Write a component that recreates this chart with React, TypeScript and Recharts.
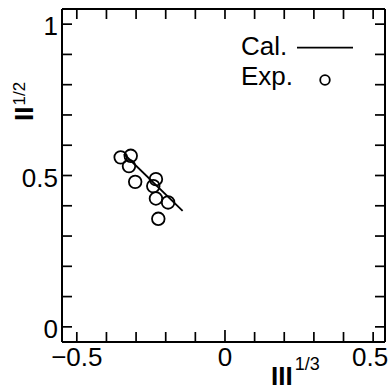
import React from 'react';
import { ScatterChart, Scatter, XAxis, YAxis } from 'recharts';

// Experimental points
const EXP_X = [-0.352, -0.318, -0.324, -0.303, -0.233, -0.242, -0.233, -0.192, -0.225];
const EXP_Y = [0.56, 0.565, 0.531, 0.479, 0.488, 0.465, 0.424, 0.411, 0.357];
// Calculated line
const CAL_X = [-0.341, -0.143];
const CAL_Y = [0.571, 0.383];

const X_DOMAIN = [-0.55, 0.54];
const Y_DOMAIN = [-0.05, 1.05];
const X_TICKS = [-0.5, -0.4, -0.3, -0.2, -0.1, 0, 0.1, 0.2, 0.3, 0.4, 0.5];
const Y_TICKS = [0, 0.1, 0.2, 0.3, 0.4, 0.5, 0.6, 0.7, 0.8, 0.9, 1];
const X_LABELS: Record<string, string> = { '-0.5': '−0.5', '0': '0', '0.5': '0.5' };
const Y_LABELS: Record<string, string> = { '0': '0', '0.5': '0.5', '1': '1' };
const SERIES_NAMES = ['Cal.', 'Exp.'];
const X_TITLE = ['III', '1/3'];
const Y_TITLE = ['II', '1/2'];

const expData = EXP_X.map((x, i) => ({ x, y: EXP_Y[i] }));
const calData = CAL_X.map((x, i) => ({ x, y: CAL_Y[i] }));

// tick-mark anchor points on the four frame sides (positions come from the scales)
const bottomTickPts = X_TICKS.map((v) => ({ x: v, y: Y_DOMAIN[0], v }));
const topTickPts = X_TICKS.map((v) => ({ x: v, y: Y_DOMAIN[1], v }));
const leftTickPts = Y_TICKS.map((v) => ({ x: X_DOMAIN[0], y: v, v }));
const rightTickPts = Y_TICKS.map((v) => ({ x: X_DOMAIN[1], y: v, v }));

const FONT = '"Liberation Sans", Arial, Helvetica, sans-serif';
const axisLine = { stroke: '#000', strokeWidth: 2 };
const TICK_W = 1.7;
const TICK_LEN = 10;

const BottomMark = (props: any) => {
  const { cx, cy, payload } = props;
  const len = payload && payload.v === 0 ? 12 : TICK_LEN;
  return <line x1={cx} x2={cx} y1={cy} y2={cy - len} stroke="#000" strokeWidth={TICK_W} />;
};
const TopMark = (props: any) => {
  const { cx, cy } = props;
  return <line x1={cx} x2={cx} y1={cy} y2={cy + TICK_LEN} stroke="#000" strokeWidth={TICK_W} />;
};
const LeftMark = (props: any) => {
  const { cx, cy } = props;
  return <line x1={cx} x2={cx + TICK_LEN} y1={cy} y2={cy} stroke="#000" strokeWidth={TICK_W} />;
};
const RightMark = (props: any) => {
  const { cx, cy } = props;
  return <line x1={cx} x2={cx - TICK_LEN} y1={cy} y2={cy} stroke="#000" strokeWidth={TICK_W} />;
};

const BottomTick = (props: any) => {
  const { x, y, payload, index } = props;
  const label = X_LABELS[String(payload.value)];
  if (!label) return <g />;
  const shift = index === X_TICKS.length - 1 ? -3 : 0;
  return (
    <text x={x + shift} y={y + 6} dy="0.71em" textAnchor="middle" fontSize={26} fontFamily={FONT} fill="#000">
      {label}
    </text>
  );
};

const LeftTick = (props: any) => {
  const { x, y, payload } = props;
  const label = Y_LABELS[String(payload.value)];
  if (!label) return <g />;
  return (
    <text x={x - 4} y={y + 2} dy="0.355em" textAnchor="end" fontSize={26} fontFamily={FONT} fill="#000">
      {label}
    </text>
  );
};

const OpenCircle = (props: any) => (
  <circle cx={props.cx} cy={props.cy} r={6.3} fill="none" stroke="#000" strokeWidth={1.8} />
);
const NoShape = () => <g />;

// Axis titles and key, drawn as a transparent overlay above the chart
const Overlay = () => (
  <svg width={389} height={390} style={{ position: 'absolute', left: 0, top: 0, pointerEvents: 'none' }}>
    <text x={271} y={385} fontFamily={FONT} fill="#000">
      <tspan fontSize={26} fontWeight="bold">{X_TITLE[0]}</tspan>
      <tspan fontSize={18} dx={2} dy={-15}>{X_TITLE[1]}</tspan>
    </text>
    <text x={33} y={121} transform="rotate(-90, 33, 121)" fontFamily={FONT} fill="#000">
      <tspan fontSize={26} fontWeight="bold">{Y_TITLE[0]}</tspan>
      <tspan fontSize={17} dx={1} dy={-8}>{Y_TITLE[1]}</tspan>
    </text>
    <text x={241} y={54.5} fontSize={26} fontFamily={FONT} fill="#000">{SERIES_NAMES[0]}</text>
    <line x1={297} x2={353} y1={47.7} y2={47.7} stroke="#000" strokeWidth={1.8} />
    <text x={241} y={85} fontSize={26} fontFamily={FONT} fill="#000">{SERIES_NAMES[1]}</text>
    <circle cx={325} cy={80} r={4.8} fill="none" stroke="#000" strokeWidth={1.8} />
  </svg>
);

export default function App() {
  return (
    <div style={{ position: 'absolute', left: 0, top: 0, width: 389, height: 390 }}>
      <ScatterChart width={389} height={390} margin={{ top: 0, right: 0, bottom: 0, left: 0 }}>
        <XAxis
          xAxisId="b"
          dataKey="x"
          type="number"
          domain={X_DOMAIN}
          ticks={X_TICKS}
          interval={0}
          height={48}
          tickSize={0}
          tickMargin={0}
          tick={<BottomTick />}
          tickLine={false}
          axisLine={axisLine}
        />
        <XAxis
          xAxisId="t"
          dataKey="x"
          type="number"
          orientation="top"
          domain={X_DOMAIN}
          ticks={X_TICKS}
          height={9}
          tick={false}
          tickLine={false}
          axisLine={axisLine}
        />
        <YAxis
          yAxisId="l"
          dataKey="y"
          type="number"
          domain={Y_DOMAIN}
          ticks={Y_TICKS}
          interval={0}
          width={62}
          tickSize={0}
          tickMargin={0}
          tick={<LeftTick />}
          tickLine={false}
          axisLine={axisLine}
        />
        <YAxis
          yAxisId="r"
          dataKey="y"
          type="number"
          orientation="right"
          domain={Y_DOMAIN}
          ticks={Y_TICKS}
          width={4}
          tick={false}
          tickLine={false}
          axisLine={axisLine}
        />
        <Scatter data={bottomTickPts} xAxisId="b" yAxisId="l" shape={<BottomMark />} isAnimationActive={false} legendType="none" />
        <Scatter data={topTickPts} xAxisId="b" yAxisId="l" shape={<TopMark />} isAnimationActive={false} legendType="none" />
        <Scatter data={leftTickPts} xAxisId="b" yAxisId="l" shape={<LeftMark />} isAnimationActive={false} legendType="none" />
        <Scatter data={rightTickPts} xAxisId="b" yAxisId="l" shape={<RightMark />} isAnimationActive={false} legendType="none" />
        <Scatter
          name={SERIES_NAMES[0]}
          data={calData}
          xAxisId="b"
          yAxisId="l"
          line={{ stroke: '#000', strokeWidth: 1.8 }}
          shape={<NoShape />}
          isAnimationActive={false}
        />
        <Scatter
          name={SERIES_NAMES[1]}
          data={expData}
          xAxisId="b"
          yAxisId="l"
          shape={<OpenCircle />}
          isAnimationActive={false}
        />
      </ScatterChart>
      <Overlay />
    </div>
  );
}
